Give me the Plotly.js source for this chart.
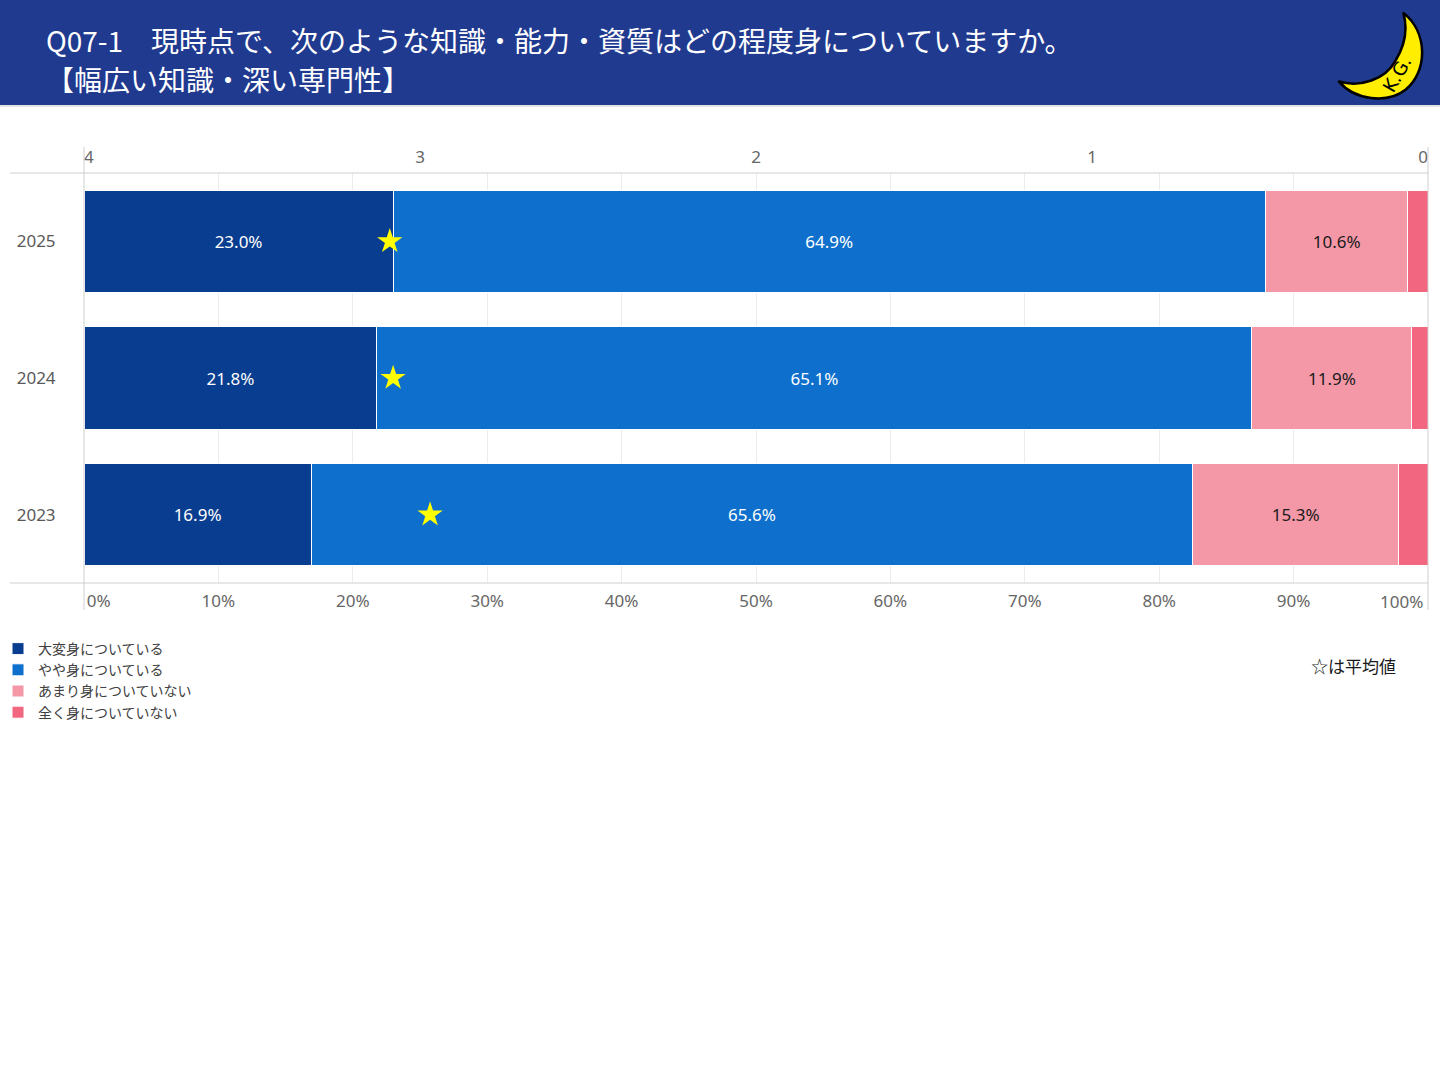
<!DOCTYPE html>
<html>
<head>
<meta charset="utf-8">
<script src="https://cdn.plot.ly/plotly-3.0.1.min.js"></script>
<style>
  html, body { margin: 0; padding: 0; background: #ffffff; }
  #graph { width: 1440px; height: 1080px; }
</style>
</head>
<body>
<div id="graph"></div>
<script>
var years = ['2025', '2024', '2023'];
var seriesNames = ['大変身についている', 'やや身についている', 'あまり身についていない', '全く身についていない'];
var seriesColors = ['#083d8f', '#0e6fcc', '#f498a8', '#f3667f'];
var labelColors = ['#ffffff', '#ffffff', '#1a1a1a', '#ffffff'];
var veryMuch = [23.0, 21.8, 16.9];
var somewhat = [64.9, 65.1, 65.6];
var notMuch = [10.6, 11.9, 15.3];
var notAtAll = [1.5, 1.2, 2.2];
var averages = [3.09, 3.08, 2.97];
var pctTicks = [0, 10, 20, 30, 40, 50, 60, 70, 80, 90, 100];
// the last label sits flush against the right edge, so it is drawn as an annotation
var pctLabels = ['\u2007\u2007\u20070%', '10%', '20%', '30%', '40%', '50%', '60%', '70%', '80%', '90%', ''];
var scoreTicks = [4, 3, 2, 1, 0];
var scoreLabels = ['\u20074', '3', '2', '1', '0\u2007'];

var values = [veryMuch, somewhat, notMuch, notAtAll];
var traces = [];
for (var i = 0; i < values.length; i++) {
    traces.push({
        type: 'bar',
        orientation: 'h',
        name: seriesNames[i],
        x: values[i],
        y: years,
        marker: { color: seriesColors[i], line: { color: '#ffffff', width: 1 } },
        text: i < 3 ? values[i].map(function (v) { return v.toFixed(1) + '%'; }) : null,
        textposition: i < 3 ? 'inside' : 'none',
        insidetextanchor: 'middle',
        textfont: { color: labelColors[i], size: 17, family: 'Noto Sans, sans-serif' },
        hoverinfo: 'x+name'
    });
}
traces.push({
    type: 'scatter',
    mode: 'markers',
    x: averages,
    y: years,
    xaxis: 'x2',
    marker: { symbol: 'star', color: '#ffff00', size: 19, line: { width: 0 } },
    showlegend: false,
    hoverinfo: 'x'
});

var gray = '#cfcfcf';
var titleFont = { family: 'Noto Sans CJK JP, sans-serif', size: 28, color: '#ffffff' };
var layout = {
    width: 1440,
    height: 1080,
    margin: { l: 84, r: 12, t: 173, b: 497, autoexpand: false },
    paper_bgcolor: '#ffffff',
    plot_bgcolor: '#ffffff',
    barmode: 'stack',
    bargap: 0.25,
    font: { family: 'Noto Sans, Noto Sans CJK JP, sans-serif', color: '#595959' },
    title: {
        text: 'Q07-1　現時点で、次のような知識・能力・資質はどの程度身についていますか。',
        font: titleFont,
        xref: 'container', x: 46 / 1440, xanchor: 'left',
        yref: 'container', y: 1 - 42 / 1080, yanchor: 'middle',
        automargin: false
    },
    xaxis: {
        range: [0, 100],
        tickvals: pctTicks,
        ticktext: pctLabels,
        ticklabeloverflow: 'allow',
        ticks: 'outside', ticklen: 3, tickcolor: 'rgba(0,0,0,0)',
        tickfont: { size: 17, color: '#666666' },
        showgrid: true, gridcolor: '#ececec', gridwidth: 1,
        zeroline: false, showline: false, fixedrange: true, automargin: false
    },
    xaxis2: {
        overlaying: 'x',
        side: 'top',
        range: [4, 0],
        tickvals: scoreTicks,
        ticktext: scoreLabels,
        ticklabeloverflow: 'allow',
        ticks: 'outside', ticklen: 2, tickcolor: 'rgba(0,0,0,0)',
        tickfont: { size: 17, color: '#666666' },
        showgrid: false, zeroline: false, showline: false, fixedrange: true, automargin: false
    },
    yaxis: {
        type: 'category',
        autorange: 'reversed',
        ticks: 'outside', ticklen: 24, tickcolor: 'rgba(0,0,0,0)',
        tickfont: { size: 17, color: '#595959' },
        showgrid: false, zeroline: false, showline: false, fixedrange: true, automargin: false
    },
    legend: {
        orientation: 'v',
        traceorder: 'normal',
        xref: 'paper', x: -86 / 1344, xanchor: 'left',
        yref: 'paper', y: (583 - 633) / 410, yanchor: 'top',
        font: { size: 14, color: '#404040', family: 'Noto Sans CJK JP, sans-serif' },
        tracegroupgap: 0,
        itemwidth: 30,
        bgcolor: 'rgba(0,0,0,0)'
    },
    shapes: [
        { type: 'rect', layer: 'below', xref: 'paper', yref: 'paper',
          x0: -84 / 1344, x1: 1 + 12 / 1344, y0: (583 - 105) / 410, y1: 583 / 410,
          fillcolor: '#1f3a8f', line: { width: 0 } },
        { type: 'line', xref: 'paper', yref: 'paper',
          x0: -84 / 1344, x1: 1 + 12 / 1344, y0: (583 - 106) / 410, y1: (583 - 106) / 410,
          line: { color: '#e3e3e3', width: 2 } },
        { type: 'line', xref: 'paper', yref: 'paper',
          x0: -74 / 1344, x1: 1, y0: 1, y1: 1, line: { color: gray, width: 1 } },
        { type: 'line', xref: 'paper', yref: 'paper',
          x0: -74 / 1344, x1: 1, y0: 0, y1: 0, line: { color: gray, width: 1 } },
        { type: 'line', xref: 'paper', yref: 'paper',
          x0: 0, x1: 0, y0: -27 / 410, y1: 436 / 410, line: { color: gray, width: 1 } },
        { type: 'line', xref: 'paper', yref: 'paper',
          x0: 1, x1: 1, y0: -27 / 410, y1: 436 / 410, line: { color: gray, width: 1 } }
    ],
    annotations: [
        { text: '【幅広い知識・深い専門性】', xref: 'paper', yref: 'paper',
          x: (44 - 84) / 1344, xanchor: 'left',
          y: (583 - 79) / 410, yanchor: 'middle',
          showarrow: false, font: titleFont },
        { text: '100%', xref: 'x', yref: 'paper',
          x: pctTicks[pctTicks.length - 1], xanchor: 'right', xshift: -3,
          y: (583 - 601) / 410, yanchor: 'middle',
          showarrow: false,
          font: { size: 17, color: '#666666', family: 'Noto Sans, sans-serif' } },
        { text: '☆は平均値', xref: 'paper', yref: 'paper',
          x: (1398 - 84) / 1344, xanchor: 'right',
          y: (583 - 665) / 410, yanchor: 'middle',
          showarrow: false,
          font: { size: 17, color: '#1a1a1a', family: 'Noto Sans CJK JP, sans-serif' } }
    ],
    images: [
        { source: 'data:image/svg+xml;utf8,' + encodeURIComponent(
            '<svg xmlns="http://www.w3.org/2000/svg" width="90" height="90" viewBox="0 0 90 90">' +
            '<path d="M66,5 C90,24 90,62 68,80 C50,94 18,90 3,72 C24,78 48,70 58,52 C68,36 70,20 66,5 Z" ' +
            'fill="#ffee00" stroke="#000" stroke-width="2.5" stroke-linejoin="round"/>' +
            '<text x="0" y="0" font-family="DejaVu Sans, sans-serif" font-size="18" fill="#000" ' +
            'transform="translate(56,84) rotate(-60)">K.G.</text></svg>'),
          xref: 'paper', yref: 'paper',
          x: (1336 - 84) / 1344, y: (583 - 8) / 410,
          sizex: 92 / 1344, sizey: 92 / 410,
          xanchor: 'left', yanchor: 'top', layer: 'above' }
    ]
};

var config = { responsive: false, displayModeBar: false, staticPlot: true };
Plotly.newPlot('graph', traces, layout, config);
</script>
</body>
</html>
